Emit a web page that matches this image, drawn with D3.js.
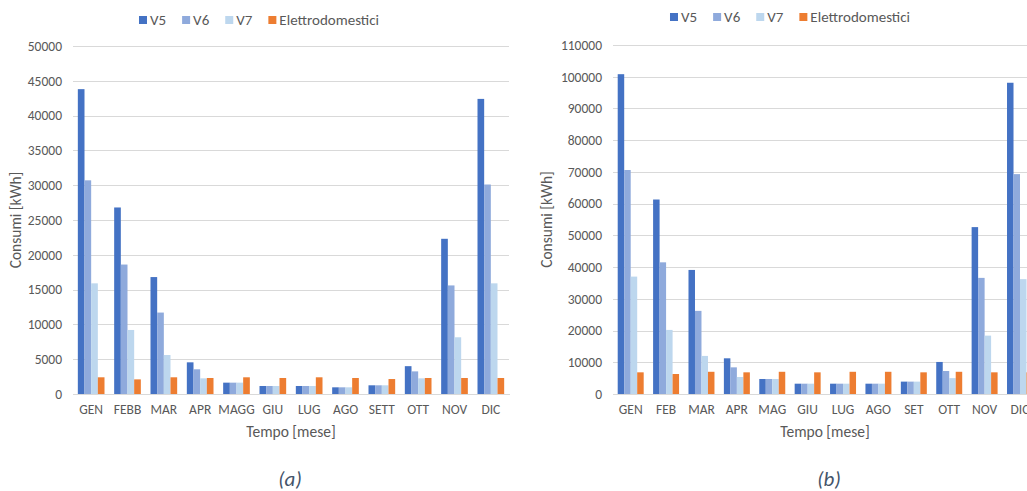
<!DOCTYPE html>
<html>
<head>
<meta charset="utf-8">
<script src="https://cdn.jsdelivr.net/npm/d3@7"></script>
<style>
  html, body { margin: 0; padding: 0; background: #fff; }
  svg { display: block; }
  text { font-family: Carlito, Lato, "Open Sans", sans-serif; }
</style>
</head>
<body>
<svg id="chart" width="1027" height="491"></svg>
<script>
// Monthly consumption, panel (a)
const monthsA = ["GEN", "FEBB", "MAR", "APR", "MAGG", "GIU", "LUG", "AGO", "SETT", "OTT", "NOV", "DIC"];
const v5A = [43800, 26800, 16800, 4550, 1630, 1150, 1150, 960, 1250, 4000, 22300, 42400];
const v6A = [30700, 18600, 11700, 3550, 1630, 1150, 1150, 960, 1250, 3250, 15600, 30100];
const v7A = [15900, 9200, 5600, 2250, 1630, 1150, 1150, 960, 1250, 2250, 8150, 15900];
const elA = [2400, 2100, 2400, 2300, 2400, 2300, 2400, 2300, 2150, 2300, 2300, 2300];
const ticksA = [0, 5000, 10000, 15000, 20000, 25000, 30000, 35000, 40000, 45000, 50000];

// Monthly consumption, panel (b)
const monthsB = ["GEN", "FEB", "MAR", "APR", "MAG", "GIU", "LUG", "AGO", "SET", "OTT", "NOV", "DIC"];
const v5B = [100800, 61300, 39100, 11250, 4730, 3250, 3250, 3250, 3900, 10100, 52600, 98100];
const v6B = [70600, 41500, 26200, 8400, 4730, 3250, 3250, 3250, 3900, 7250, 36600, 69300];
const v7B = [37000, 20200, 12000, 5360, 4730, 3250, 3250, 3250, 3900, 5000, 18400, 36200];
const elB = [6830, 6300, 7000, 6830, 7000, 6830, 7000, 7000, 6830, 7000, 6830, 6830];
const ticksB = [0, 10000, 20000, 30000, 40000, 50000, 60000, 70000, 80000, 90000, 100000, 110000];

const seriesNames = ["V5", "V6", "V7", "Elettrodomestici"];
const seriesColors = ["#4472C4", "#8FAADC", "#BDD7EE", "#ED7D31"];

const svg = d3.select("#chart");
const textColor = "#595959";
const gridColor = "#D9D9D9";

function drawPanel(cfg) {
  const g = svg.append("g");
  const x = d3.scaleBand().domain(cfg.months).range(cfg.xRange)
    .paddingInner(0.266).paddingOuter(0.133);
  const xs = d3.scaleBand().domain(seriesNames).range([0, x.bandwidth()]);
  const y = d3.scaleLinear().domain([0, d3.max(cfg.ticks)]).range([394, cfg.yTop]);
  const color = d3.scaleOrdinal().domain(seriesNames).range(seriesColors);

  // gridlines + tick labels
  const yAxis = d3.axisLeft(y).tickValues(cfg.ticks).tickSize(-(cfg.xRange[1] - cfg.xRange[0]))
    .tickPadding(11).tickFormat(d3.format("d"));
  const ya = g.append("g").attr("transform", `translate(${cfg.xRange[0]},0)`).call(yAxis);
  ya.select(".domain").remove();
  ya.selectAll(".tick line").attr("stroke", gridColor).attr("stroke-width", 1)
    .attr("shape-rendering", "crispEdges");
  ya.selectAll(".tick text").attr("fill", textColor).attr("font-size", 13.5)
    .attr("font-family", "Carlito, Lato, sans-serif");

  // bars
  const rows = cfg.months.map((m, i) => ({ month: m, values: cfg.series.map((s, k) => ({ key: seriesNames[k], value: s[i] })) }));
  const groups = g.selectAll(".grp").data(rows).join("g")
    .attr("transform", d => `translate(${x(d.month)},0)`);
  groups.selectAll("rect").data(d => d.values).join("rect")
    .attr("x", d => xs(d.key))
    .attr("width", xs.bandwidth())
    .attr("y", d => y(d.value))
    .attr("height", d => y(0) - y(d.value))
    .attr("fill", d => color(d.key));

  // x axis labels
  const xAxis = d3.axisBottom(x).tickSize(0).tickPadding(10);
  const xa = g.append("g").attr("transform", "translate(0,394)").call(xAxis);
  xa.select(".domain").attr("stroke", gridColor).attr("shape-rendering", "crispEdges");
  xa.selectAll(".tick text").attr("fill", textColor).attr("font-size", 13.5)
    .attr("font-family", "Carlito, Lato, sans-serif");

  // axis titles
  g.append("text").attr("x", cfg.xTitleX).attr("y", 437).attr("text-anchor", "middle")
    .attr("fill", textColor).attr("font-size", 15.5).text("Tempo [mese]");
  g.append("text").attr("transform", `translate(${cfg.yTitleX},${(394 + cfg.yTop) / 2}) rotate(-90)`)
    .attr("text-anchor", "middle").attr("fill", textColor).attr("font-size", 15.5).text("Consumi [kWh]");

  // legend
  const leg = g.append("g");
  const items = leg.selectAll("g").data(seriesNames).join("g");
  items.append("rect").attr("width", 8).attr("height", 8).attr("y", -4)
    .attr("fill", d => color(d));
  items.append("text").attr("x", 11).attr("dy", "0.35em").attr("fill", textColor)
    .attr("font-size", 15).text(d => d);
  let off = 0;
  items.each(function () {
    const w = 11 + d3.select(this).select("text").node().getComputedTextLength();
    d3.select(this).attr("transform", `translate(${off},0)`);
    off += w + 16;
  });
  const total = off - 16;
  leg.attr("transform", `translate(${cfg.legendCenter - total / 2},${cfg.legendY})`);

  // caption
  svg.append("text").attr("x", cfg.captionX).attr("y", 486).attr("text-anchor", "middle")
    .attr("fill", "#44546A").attr("font-size", 21).attr("font-style", "italic")
    .text(cfg.caption);
}

drawPanel({
  months: monthsA, series: [v5A, v6A, v7A, elA], ticks: ticksA,
  xRange: [73, 509], yTop: 46, xTitleX: 291, yTitleX: 21,
  legendCenter: 259, legendY: 20, captionX: 290, caption: "(a)"
});

drawPanel({
  months: monthsB, series: [v5B, v6B, v7B, elB], ticks: ticksB,
  xRange: [613, 1037.7], yTop: 45, xTitleX: 825, yTitleX: 552,
  legendCenter: 790, legendY: 17, captionX: 829, caption: "(b)"
});
</script>
</body>
</html>
